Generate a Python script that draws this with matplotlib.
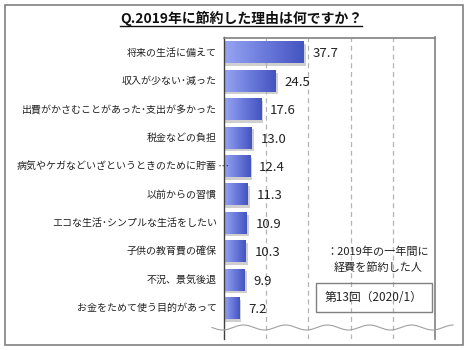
import matplotlib
matplotlib.use("Agg")
import matplotlib.pyplot as plt
import numpy as np
from matplotlib.patches import Rectangle
from matplotlib.colors import LinearSegmentedColormap
from matplotlib.transforms import offset_copy

plt.rcParams['font.family'] = ['Noto Sans CJK JP', 'DejaVu Sans']

title = "Q.2019年に節約した理由は何ですか？"
categories = ["将来の生活に備えて", "収入が少ない･減った", "出費がかさむことがあった･支出が多かった",
              "税金などの負担", "病気やケガなどいざというときのために貯蓄…", "以前からの習慣",
              "エコな生活･シンプルな生活をしたい", "子供の教育費の確保", "不況、景気後退",
              "お金をためて使う目的があって"]
values = [37.7, 24.5, 17.6, 13.0, 12.4, 11.3, 10.9, 10.3, 9.9, 7.2]
note_lines = ["：2019年の一年間に", "経費を節約した人"]
box_text = "第13回（2020/1）"
xticks = [0, 20, 40, 60, 80, 100]

W, H = 470, 350
fig = plt.figure(figsize=(W/100, H/100), dpi=100)

def fx(px): return px / W
def fy(py): return 1 - py / H

# outer border
fig.patches.append(Rectangle((fx(4.5), fy(344.5)), fx(463-4.5), (344.5-4.5)/H,
                             transform=fig.transFigure, fill=False, edgecolor='#808080', lw=1.2))

ax_l, ax_r, ax_t, ax_b = 224, 435, 37.5, 339
ax = fig.add_axes([fx(ax_l), fy(ax_b), fx(ax_r-ax_l), (ax_b-ax_t)/H])
ax.set_xticks([])
ax.set_yticks([])
ax.spines['bottom'].set_visible(False)
ax.spines['left'].set_color('#404040')
ax.spines['left'].set_linewidth(1.0)
for s in ['top', 'right']:
    ax.spines[s].set_color('#808080')
    ax.spines[s].set_linewidth(1.2)

for x in xticks[1:-1]:
    ax.axvline(x, color='#b4b4b4', lw=0.9, ls=(0, (4, 3)), zorder=0.5)

cmap = LinearSegmentedColormap.from_list('g', ['#97a5f2', '#6b7bdc', '#4454c0'])
grad = np.linspace(0, 1, 256).reshape(1, -1)
h = 0.77
for i, v in enumerate(values):
    ax.add_patch(Rectangle((0.6, i - h/2 + 0.09), v + 0.4, h, facecolor='#b0b0b0',
                           edgecolor='none', alpha=0.6, zorder=1))
    ax.imshow(grad, cmap=cmap, extent=[0, v, i + h/2, i - h/2], aspect='auto',
              zorder=2, interpolation='bilinear')
    ax.text(v + 4.2, i + 0.05, f"{v:.1f}", va='center', ha='left', fontsize=9.5,
            color='#222222', zorder=3)
ax.set_xlim(0, 100)
ax.set_ylim(10.09, -0.53)

# category labels
lab_tr = offset_copy(ax.transData, fig=fig, x=-5.2, y=0, units='points')
dots_tr = offset_copy(ax.transData, fig=fig, x=-4.9, y=0, units='points')
for i, c in enumerate(categories):
    if c.endswith("…"):
        ax.text(0, i, c[:-1], transform=lab_tr, ha='right', va='center', fontsize=7.2,
                color='#222222', clip_on=False)
        ax.text(0, i, "･･･", transform=dots_tr, ha='left', va='center', fontsize=6,
                color='#333333', clip_on=False, zorder=6)
    else:
        ax.text(0, i, c, transform=lab_tr, ha='right', va='center', fontsize=7.2,
                color='#222222', clip_on=False)

# title with underline
t = fig.text(fx(241), fy(18), title, ha='center', va='center', fontsize=10,
             fontweight='bold', color='#111111')
fig.canvas.draw()
bb = t.get_window_extent()
fig.add_artist(plt.Line2D([bb.x0 / W, bb.x1 / W], [fy(25.5), fy(25.5)],
                          transform=fig.transFigure, color='#111111', lw=1))

# wavy break line
xs = np.linspace(212, 453, 400)
ys = 327.5 + 2.5 * np.sin((xs - 212) / 42 * 2 * np.pi)
fig.add_artist(plt.Line2D(fx(xs), fy(ys), transform=fig.transFigure, color='#a0a0a0', lw=0.8))

# note
fig.text(fx(378), fy(252), note_lines[0], ha='center', va='center', fontsize=8, color='#222222')
fig.text(fx(378), fy(268), note_lines[1], ha='center', va='center', fontsize=8, color='#222222')
fig.patches.append(Rectangle((fx(316), fy(312)), fx(432-316), (312-283)/H,
                             transform=fig.transFigure, fill=False, edgecolor='#808080', lw=1))
fig.text(fx(374), fy(297.5), box_text, ha='center', va='center', fontsize=8.5, color='#222222')

fig.savefig('out.png', dpi=100)
